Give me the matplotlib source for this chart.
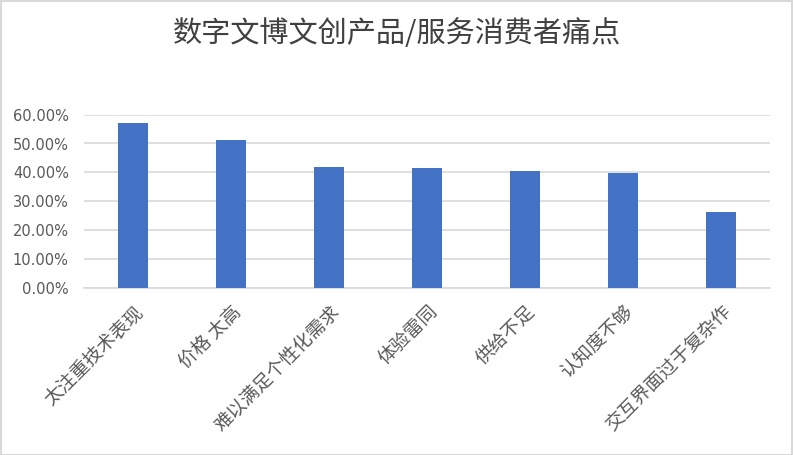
import numpy as np
import matplotlib
matplotlib.use('Agg')
import matplotlib.pyplot as plt
from matplotlib.ticker import PercentFormatter
from matplotlib.patches import Rectangle

plt.rcParams['font.family'] = ['Noto Sans CJK SC', 'DejaVu Sans']

# data
categories = ['太注重技术表现', '价格 太高', '难以满足个性化需求', '体验雷同',
              '供给不足', '认知度不够', '交互界面过于复杂作']
values = [0.571, 0.512, 0.418, 0.415, 0.404, 0.397, 0.262]
yticks = [0.0, 0.1, 0.2, 0.3, 0.4, 0.5, 0.6]

fig = plt.figure(figsize=(7.94, 4.55), dpi=100)
ax = fig.add_axes([84 / 794, 1 - 287.5 / 455, (770 - 84) / 794, (287.5 - 114.7) / 455])

x = np.arange(len(categories))
ax.bar(x, values, width=0.3, color='#4472C4', zorder=3)

ax.set_xlim(-0.5, len(categories) - 0.5)
ax.set_ylim(0, 0.6)
ax.set_yticks(yticks)
ax.yaxis.set_major_formatter(PercentFormatter(1.0, decimals=2))
ax.grid(axis='y', color='#d9d9d9', linewidth=1.2, zorder=0)

for s in ['top', 'right', 'left']:
    ax.spines[s].set_visible(False)
ax.spines['bottom'].set_color('#d9d9d9')
ax.spines['bottom'].set_linewidth(1.2)

ax.tick_params(axis='both', length=0)
ax.tick_params(axis='y', pad=11, labelsize=10.5, labelcolor='#595959')
for lbl in ax.get_yticklabels():
    lbl.set_family('DejaVu Sans')

ax.set_xticks(x)
ax.set_xticklabels(categories, rotation=45, ha='right', va='top',
                   rotation_mode='anchor', fontsize=13.5, color='#595959')
ax.tick_params(axis='x', pad=10)

fig.text(0.5, 1 - 34 / 455, '数字文博文创产品/服务消费者痛点', ha='center', va='center',
         fontsize=21, color='#404040', fontweight='medium')

# chart border
fig.patches.append(Rectangle((0.001, 0.001), 0.997, 0.997, transform=fig.transFigure,
                             fill=False, edgecolor='#d9d9d9', linewidth=1.5))

fig.savefig('out.png', dpi=100)
